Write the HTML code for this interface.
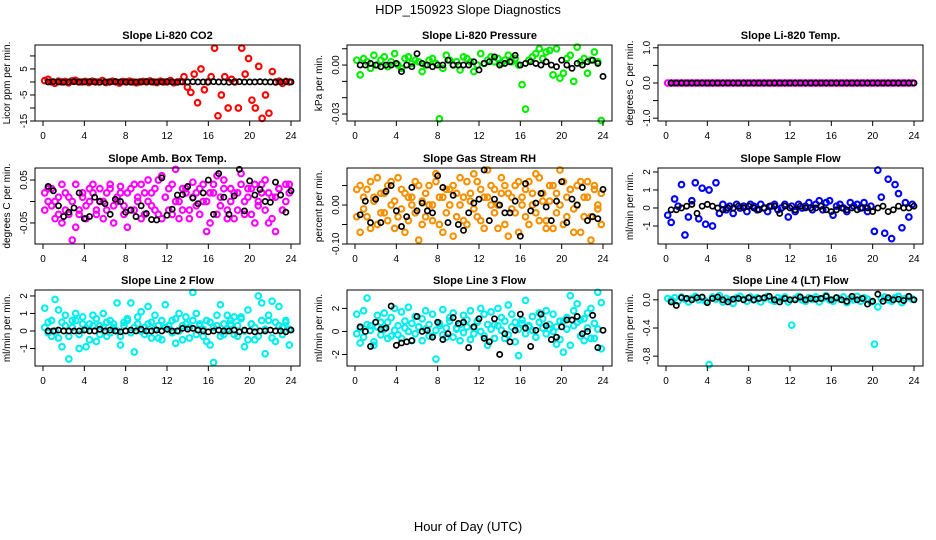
<!DOCTYPE html>
<html><head><meta charset="utf-8"><style>
html,body{margin:0;padding:0;background:#fff;width:936px;height:540px;overflow:hidden}
svg text{font-family:"Liberation Sans",sans-serif;fill:#000}
</style></head><body>
<svg id="chart" width="936" height="540" viewBox="0 0 936 540" xmlns="http://www.w3.org/2000/svg">
<rect width="936" height="540" fill="#fff"/>
<text x="468" y="14" font-size="13" text-anchor="middle">HDP_150923  Slope Diagnostics</text>
<text x="468" y="531" font-size="13" text-anchor="middle">Hour of Day (UTC)</text>
</svg>
<script>
const xTicks = [0,4,8,12,16,20,24];
const co2Color = [0.5,1,0,-0.5,0.3,0,0.2,-0.3,0.4,0.6,0,0,0.2,-0.2,0.3,0,0,0.5,-0.2,0,0.3,0,-0.4,0.2,0,0.3,0,-0.3,0,0.2,0,0.4,0,-0.2,0.3,0,0,0.5,-0.3,0,0.2,2,-2,-4,3,-8,5,-3,0,2,13,-13,-5,2,-10,1,0,-10,13,3,9,-7,-10,6,-14,-5,-12,4,0,0.3,-0.5,0.2,0];
const co2Black = [0,0.1,0,-0.1,0,0.1,0,0,0.1,0,-0.1,0,0,0.1,0,0,-0.1,0,0,0.1,0,0,0,0.1,0,-0.1,0,0,0.1,0,0,0,0.1,0,0,-0.1,0,0.1,0,0,0,0.1,0,0,-0.1,0,0.1,0];
const presColor = [0.003,-0.006,0.004,0.002,-0.002,0.006,0,0.003,0.005,-0.001,0.002,0.007,0,-0.002,0.004,0.005,0.001,0.003,0.002,-0.004,0,0.003,0.004,0.001,-0.033,-0.002,0.006,0.003,0,0.002,-0.003,0.005,0.004,0.002,-0.004,0,0.007,0.001,0.003,0.005,0.002,0.004,0.001,0.003,0.006,0.002,0.004,0,-0.012,-0.027,0.003,0.005,0.007,0.01,0.004,0.008,0.009,-0.006,0.01,-0.008,-0.005,0.004,0.006,-0.01,0.011,0.002,0.004,-0.005,0.003,0.008,0.002,-0.034];
const presBlack = [0,0,0.001,0,-0.001,0,0,0.001,-0.004,0,-0.001,0.007,0.001,0,-0.001,0,0,0.003,0,0,0,0,0.002,-0.003,0.001,0.002,0.005,0,0.001,0.002,0.006,0,0.001,0.002,0.001,0,0.002,0,-0.001,0.003,0,-0.002,0.001,0,0.002,0.003,0.001,-0.007];
const tempColor = [0,0,0,0,0,0,0,0,0,0,0,0,0,0,0,0,0,0,0,0,0,0,0,0,0,0,0,0,0,0,0,0,0,0,0,0,0,0,0,0,0,0,0,0,0,0,0,0,0,0,0,0,0,0,0,0,0,0,0,0,0,0,0,0,0,0,0,0,0,0,0,0];
const tempBlack = [0,0,0,0,0,0,0,0,0,0,0,0,0,0,0,0,0,0,0,0,0,0,0,0,0,0,0,0,0,0,0,0,0,0,0,0,0,0,0,0,0,0,0,0,0,0,0,0];
const ambColorA = [0.02,0.03,-0.01,0.0,-0.03,0.04,-0.02,0.01,-0.09,-0.06,-0.03,0.02,-0.01,0.03,0.04,-0.02,0.0,-0.04,0.02,0.03,-0.01,0.01,0.035,-0.03,0.02,-0.02,0.04,0.0,-0.04,0.02,0.05,-0.01,0.03,-0.03,0.06,0.01,-0.02,0.04,0.0,-0.04,0.03,0.02,-0.02,0.045,-0.01,0.03,0.0,-0.07,0.02,0.04,-0.03,0.01,0.05,-0.02,0.03,-0.04,0.02,0.065,0.0,0.03,-0.03,0.04,-0.01,0.02,0.05,-0.05,0.01,-0.07,0.03,-0.02,0.04,0.02];
const ambColorB = [-0.02,0.0,0.03,-0.04,0.01,-0.05,0.02,-0.03,0.0,0.04,-0.02,0.01,-0.04,0.0,0.02,-0.03,0.03,0.0,-0.02,0.04,-0.05,0.0,0.02,-0.01,-0.06,0.03,-0.02,0.01,0.04,-0.03,0.0,0.02,-0.02,0.05,-0.04,0.01,0.03,-0.03,0.075,0.0,-0.02,0.03,-0.04,0.01,0.02,-0.03,0.04,0.0,-0.05,0.02,0.06,-0.01,0.03,-0.04,0.0,0.02,-0.02,0.04,-0.03,0.01,0.03,-0.05,0.0,0.04,-0.02,0.02,-0.04,0.01,0.03,-0.02,0.0,0.04];
const ambBlack = [0.035,0.025,-0.01,-0.035,-0.025,-0.015,0.02,-0.04,-0.035,0.01,0.0,-0.005,-0.03,0.005,0.0,-0.025,-0.02,-0.035,-0.01,-0.028,-0.042,-0.043,0.055,-0.032,-0.018,0.015,0.016,0.035,0.008,-0.005,0.02,0.05,-0.03,0.065,0.01,-0.03,0.013,0.075,-0.022,0.048,0.015,0.028,0.0,-0.002,0.045,0.015,-0.025,0.025];
const rhColorA = [0.04,-0.07,0.02,-0.03,0.06,0.01,-0.05,0.03,-0.02,0.05,0.0,-0.06,0.07,-0.01,0.03,-0.04,0.02,0.06,-0.09,0.01,-0.03,0.05,0.0,0.08,-0.05,0.02,-0.02,0.04,-0.08,0.03,0.0,-0.04,0.06,0.01,0.08,-0.03,0.04,-0.06,0.02,0.05,-0.02,0.0,0.07,-0.05,0.03,-0.01,0.05,-0.07,0.02,-0.03,0.06,0.0,0.08,-0.04,0.03,-0.06,0.01,0.05,-0.02,0.09,-0.05,0.02,0.04,-0.07,0.0,0.06,-0.03,0.02,-0.09,0.05,-0.01,0.03];
const rhColorB = [-0.03,0.05,-0.01,0.04,-0.06,0.02,0.07,-0.02,0.03,-0.04,0.06,0.01,-0.03,0.04,-0.07,0.02,0.0,-0.02,0.05,-0.05,0.03,0.0,-0.04,0.06,0.02,-0.07,0.04,0.0,0.05,-0.03,0.07,0.02,-0.05,0.03,-0.01,0.06,-0.04,0.02,0.09,0.0,0.04,-0.06,0.03,0.05,-0.08,0.02,-0.02,0.06,0.0,0.04,-0.05,0.03,-0.02,0.07,0.01,-0.04,0.05,-0.06,0.03,0.0,0.06,-0.03,0.04,-0.01,0.05,-0.07,0.02,0.06,-0.03,0.04,0.0,-0.05];
const rhBlack = [-0.025,0.01,-0.045,0.015,-0.045,0.035,0.05,-0.015,-0.055,-0.03,0.045,-0.015,0.005,-0.015,-0.02,0.075,0.045,-0.045,0.025,-0.05,-0.065,-0.02,0.005,0.015,0.09,-0.04,0.015,0.0,-0.02,-0.02,0.01,-0.08,0.055,-0.015,0.005,0.03,-0.005,-0.04,0.01,0.06,-0.045,0.015,0.0,0.045,-0.04,-0.03,-0.035,0.04];
const flowColor = [-0.4,-0.8,0.5,0.1,1.3,-1.5,-0.5,0.4,1.4,-0.6,1.1,-0.9,1.0,-1.0,1.4,-0.3,0.2,-0.1,0.1,-0.3,0.2,0.0,0.1,-0.2,0.2,0.1,-0.1,0.2,0.0,-0.2,0.1,0.2,-0.1,0.0,0.2,-0.5,0.1,-0.2,0.2,0.0,0.1,0.3,-0.1,0.2,0.4,-0.1,0.3,0.4,-0.4,0.1,0.2,0.0,-0.2,0.3,0.1,0.2,0.0,0.3,-0.2,0.1,-1.3,2.1,0.6,-1.4,1.6,-1.7,1.3,0.8,-1.1,0.3,-0.5,0.2];
const flowBlack = [-0.1,-0.1,0.0,0.1,0.2,-0.3,0.1,0.2,0.1,0.0,-0.1,0.0,0.0,0.1,0.0,0.1,0.0,-0.1,0.0,0.1,0.1,-0.3,0.1,0.0,-0.1,0.1,0.0,0.0,0.0,0.1,-0.1,-0.2,-0.1,0.0,-0.1,0.0,-0.1,0.0,0.0,-0.2,0.0,0.1,-0.2,-0.1,0.1,0.0,0.0,0.1];
const line2ColorA = [1.3,0.5,-0.3,1.8,1.2,-0.9,0.9,-1.6,0.6,1.0,-1.0,0.8,-0.9,0.4,0.9,-0.6,0.3,1.0,-0.3,0.6,0.2,1.6,-0.8,0.5,0.7,1.6,-1.2,0.4,1.1,0.2,1.4,-0.4,0.9,0.3,-0.5,1.5,0.1,0.6,-0.7,1.0,0.3,0.8,-0.4,2.2,1.0,0.4,-0.3,0.6,-0.8,-1.8,0.3,1.5,-0.2,0.9,0.4,0.8,-0.3,0.7,-0.9,1.2,0.4,-0.5,2.0,1.6,-1.3,0.6,1.7,-0.6,1.4,0.2,0.5,-0.8];
const line2ColorB = [0.2,-0.1,0.6,0.0,-0.4,0.5,0.3,-0.3,0.2,0.6,-0.2,0.4,0.1,-0.5,0.3,0.7,-0.2,0.2,0.5,-0.1,0.4,0.0,-0.3,0.3,0.6,-0.1,0.2,0.8,0.0,-0.2,0.4,0.5,0.1,-0.4,0.6,0.2,0.3,-0.1,0.7,0.0,-0.5,0.4,0.2,0.6,-0.2,0.3,0.1,-0.6,0.5,0.2,0.9,-0.3,0.4,0.1,0.6,-0.2,0.3,0.8,0.0,-0.5,0.4,0.2,-0.3,0.6,0.1,0.9,-0.4,0.5,0.3,-0.2,0.6,0.1];
const line2Black = [0.0,0.0,0.05,0.0,0.0,0.0,0.0,0.05,0.0,0.0,0.1,0.0,0.05,0.0,-0.05,0.0,0.05,0.0,0.1,0.0,0.0,0.05,0.0,0.1,0.0,0.0,0.15,0.1,0.15,0.05,0.0,-0.05,0.0,0.05,0.0,0.0,0.05,-0.05,0.05,0.0,-0.05,0.0,0.0,0.05,0.0,0.0,-0.05,0.05];
const line3ColorA = [1.5,-1.0,1.8,2.9,0.5,-1.2,1.4,0.8,1.6,-0.6,1.2,2.0,-0.3,1.7,0.9,2.1,-0.8,1.3,0.4,1.1,1.8,-0.4,1.5,-2.4,0.7,1.9,-0.5,1.2,1.6,0.3,-0.8,1.4,1.0,1.8,-0.2,0.9,2.0,1.5,-1.2,1.7,0.6,2.0,1.2,-0.6,2.3,1.5,0.8,-2.1,1.0,2.7,0.4,1.3,-0.5,1.6,1.1,1.8,0.2,1.5,-1.1,0.9,-1.8,1.2,3.1,1.8,2.4,1.0,-0.8,1.6,2.0,-0.6,3.4,2.5];
const line3ColorB = [-0.2,0.3,-0.5,0.6,0.1,-0.9,0.4,-0.3,0.2,0.8,-0.4,0.1,0.5,-0.6,0.3,0.0,0.7,-0.2,0.4,-0.8,0.2,0.6,-0.4,0.1,0.5,-0.3,0.3,0.9,-0.5,0.2,0.6,-0.1,0.4,-0.7,0.3,0.8,0.0,-0.4,0.6,0.2,-0.6,0.5,0.1,0.9,-0.3,0.4,-0.9,0.2,0.7,-0.2,0.5,0.1,-0.5,0.8,0.3,-0.2,0.6,0.0,0.4,-0.7,0.9,0.2,-1.2,0.5,0.8,-0.4,1.1,0.3,-0.6,0.7,0.2,-1.5];
const line3Black = [0.4,0.0,-1.3,0.8,0.2,0.3,2.2,-1.2,-1.0,-0.9,-0.8,1.3,0.0,0.1,-0.5,0.8,-0.7,-0.2,1.2,0.7,0.8,-1.4,0.4,1.1,-0.6,-0.9,1.1,-2.0,-0.2,-0.9,0.1,1.5,0.3,-1.3,0.1,1.5,0.5,-0.7,-0.5,0.4,1.0,1.0,1.3,-0.2,0.0,1.4,-1.4,0.1];
const line4Color = [0.02,0.0,0.03,-0.02,0.04,0.01,-0.03,0.02,0.05,0.0,0.03,-0.02,-0.92,0.04,0.01,0.06,-0.03,0.02,0.0,-0.05,0.03,0.05,0.01,-0.02,0.04,0.0,0.03,-0.03,0.02,0.05,0.0,-0.02,0.03,0.01,0.04,-0.03,-0.36,0.02,0.05,0.0,-0.02,0.03,0.01,0.04,-0.03,0.02,0.06,0.0,-0.02,0.03,0.01,0.04,-0.04,0.02,0.0,0.05,-0.02,0.03,0.01,-0.03,-0.63,-0.1,0.02,0.04,0.0,-0.02,0.03,0.05,-0.04,0.02,0.04,0.01];
const line4Black = [-0.03,-0.08,0.03,0.02,0.0,0.03,0.04,-0.04,0.02,0.04,0.0,-0.03,0.01,0.02,0.0,0.03,0.0,0.02,0.03,0.05,0.0,-0.03,0.02,0.0,0.0,0.04,0.0,0.02,0.01,0.02,0.05,0.0,0.03,0.0,-0.02,0.05,0.0,0.02,-0.06,-0.02,0.08,-0.02,0.03,0.0,0.01,-0.01,0.05,0.0];

const panels = [
 {name:'co2',title:'Slope Li-820 CO2',ylab:'Licor ppm per min.',col:0,row:0,ymin:-15,ymax:14.2,ticks:[-15,-10,-5,0,5,10],labels:['-15','','-5','','5',''],color:'#ff0000',series:[co2Color],black:co2Black},
 {name:'pressure',title:'Slope Li-820 Pressure',ylab:'kPa per min.',col:1,row:0,ymin:-0.0343,ymax:0.0123,ticks:[-0.03,-0.02,-0.01,0,0.01],labels:['-0.03','','','0.00',''],color:'#00ee00',series:[presColor],black:presBlack},
 {name:'temp',title:'Slope Li-820 Temp.',ylab:'degrees C per min.',col:2,row:0,ymin:-1.08,ymax:1.08,ticks:[-1,-0.5,0,0.5,1],labels:['-1.0','','0.0','','1.0'],color:'#ff00ff',series:[tempColor],black:tempBlack},
 {name:'amb-box-temp',title:'Slope Amb. Box Temp.',ylab:'degrees C per min.',col:0,row:1,ymin:-0.099,ymax:0.078,ticks:[-0.05,0,0.05],labels:['-0.05','','0.05'],color:'#ff00ff',series:[ambColorA,ambColorB],black:ambBlack},
 {name:'gas-stream-rh',title:'Slope Gas Stream RH',ylab:'percent per min.',col:1,row:1,ymin:-0.1,ymax:0.095,ticks:[-0.1,-0.05,0,0.05],labels:['-0.10','','0.00',''],color:'#f59000',series:[rhColorA,rhColorB],black:rhBlack},
 {name:'sample-flow',title:'Slope Sample Flow',ylab:'ml/min per min.',col:2,row:1,ymin:-2.0,ymax:2.22,ticks:[-1,0,1,2],labels:['-1','0','1','2'],color:'#0000ff',series:[flowColor],black:flowBlack},
 {name:'line2-flow',title:'Slope Line 2 Flow',ylab:'ml/min per min.',col:0,row:2,ymin:-2.0,ymax:2.34,ticks:[-1,0,1,2],labels:['-1','0','1','2'],color:'#00eeee',series:[line2ColorA,line2ColorB],black:line2Black},
 {name:'line3-flow',title:'Slope Line 3 Flow',ylab:'ml/min per min.',col:1,row:2,ymin:-3.0,ymax:3.6,ticks:[-2,0,2],labels:['-2','0','2'],color:'#00eeee',series:[line3ColorA,line3ColorB],black:line3Black},
 {name:'line4-flow',title:'Slope Line 4 (LT) Flow',ylab:'ml/min per min.',col:2,row:2,ymin:-0.94,ymax:0.14,ticks:[-0.8,-0.4,0.0],labels:['-0.8','-0.4','0.0'],color:'#00eeee',series:[line4Color],black:line4Black}
];
const NS='http://www.w3.org/2000/svg';
const svg=document.getElementById('chart');
const colLeft=[35,347,658], rowTop=[45,168,290], W=265, H=76;
function mk(tag,attrs,parent){const e=document.createElementNS(NS,tag);for(const k in attrs)e.setAttribute(k,attrs[k]);parent.appendChild(e);return e;}
panels.forEach(p=>{
  const L=colLeft[p.col], T=rowTop[p.row];
  const g=mk('g',{},svg);
  
  
  const xs=h=>L+8+h*(248/24);
  const ys=v=>T+H-(v-p.ymin)/(p.ymax-p.ymin)*H;
  const t=mk('text',{x:L+W/2,y:T-6,'font-size':11,'font-weight':'bold','text-anchor':'middle'},g);
  t.textContent=p.title;
  
  
  const yl=mk('text',{x:0,y:0,'font-size':10,'text-anchor':'middle',transform:`translate(${L-25},${T+H/2}) rotate(-90)`},g);
  yl.textContent=p.ylab;
  
  
  const pts=mk('g',{fill:'none'},g);
  
  
  p.series.forEach(s=>{
    s.forEach((v,i)=>{
      const h=(i+0.5)*24/s.length;
      const c=mk('circle',{cx:xs(h),cy:ys(v),r:2.8,stroke:p.color,'stroke-width':2.1},pts);
      
      
    });
  });
  p.black.forEach((v,i)=>{
    const h=(i+1)*24/p.black.length;
    const c=mk('circle',{cx:xs(h),cy:ys(v),r:2.6,stroke:'#000','stroke-width':1.7},pts);
    
    
  });
  const b=mk('rect',{x:L,y:T,width:W,height:H,fill:'none',stroke:'#000','stroke-width':1},g);
  
  
  const xa=mk('g',{},g);
  
  
  mk('line',{x1:xs(0),x2:xs(24),y1:T+H,y2:T+H,stroke:'#000'},xa);
  xTicks.forEach(v=>{
    mk('line',{x1:xs(v),x2:xs(v),y1:T+H,y2:T+H+5,stroke:'#000'},xa);
    const tl=mk('text',{x:xs(v),y:T+H+18,'font-size':10,'text-anchor':'middle'},xa);
    tl.textContent=v;
    
    
  });
  const ya=mk('g',{},g);
  
  
  p.ticks.forEach((v,i)=>{
    mk('line',{x1:L-5,x2:L,y1:ys(v),y2:ys(v),stroke:'#000'},ya);
    if(p.labels[i]){
      const tl=mk('text',{x:0,y:0,'font-size':10,'text-anchor':'middle',transform:`translate(${L-8},${ys(v)}) rotate(-90)`},ya);
      tl.textContent=p.labels[i];
      
      
    }
  });
});
</script>
</body></html>
